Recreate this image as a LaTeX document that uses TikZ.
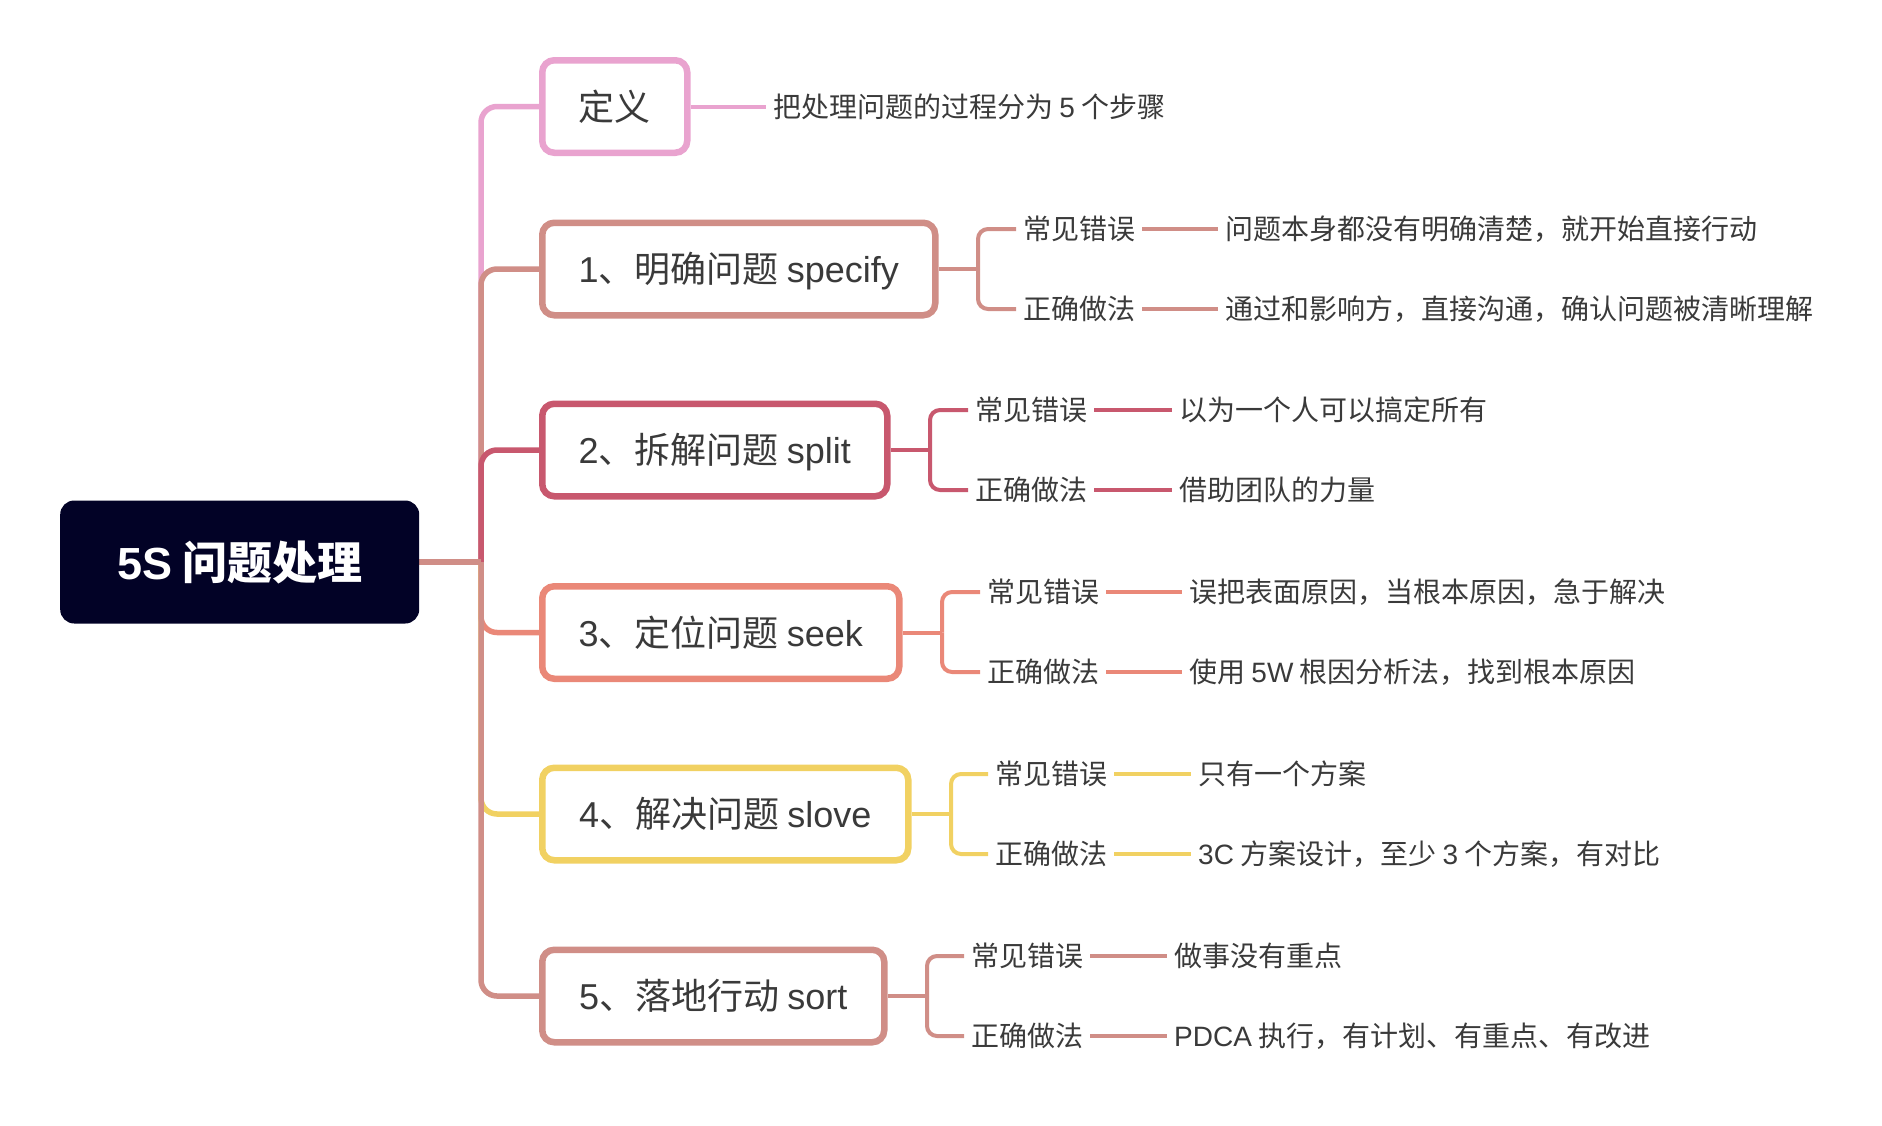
\documentclass[tikz,border=0pt]{standalone}
\usepackage{fontspec}
\usetikzlibrary{backgrounds}
\setmainfont{Noto Sans CJK SC}
\newfontfamily\latf{Liberation Sans}
\newcommand{\lt}[1]{{\latf #1}}
\definecolor{cpink}{HTML}{E9A3CF}
\definecolor{csal}{HTML}{D08E87}
\definecolor{ccrim}{HTML}{C8586E}
\definecolor{ccoral}{HTML}{EA8878}
\definecolor{cyel}{HTML}{F1D162}
\definecolor{croot}{HTML}{020226}
\definecolor{txt}{HTML}{3A3A3A}
\tikzset{
  boxnode/.style={draw, line width=6.5pt, rounded corners=12pt, fill=white,
    minimum height=92.5pt, text=txt, font=\fontsize{36}{43}\selectfont,
    anchor=west, inner sep=0pt, text height=31.7pt, text depth=4.3pt},
  lbl/.style={anchor=west, inner xsep=7pt, inner ysep=0pt, text=txt,
    font=\fontsize{28}{34}\selectfont, text height=24.6pt, text depth=3.4pt},
  conn/.style={line width=5.5pt, rounded corners=16pt},
  subconn/.style={line width=4pt, rounded corners=10pt},
}
\begin{document}
\begin{tikzpicture}[x=1pt,y=-1pt]
\useasboundingbox (0,0) rectangle (1882,1125);
% root
\node[fill=croot, rounded corners=14pt, minimum width=359pt, minimum height=123pt,
  anchor=west, inner sep=0pt, text=white, font=\fontsize{45}{54}\selectfont\bfseries,
  text height=39.6pt, text depth=5.4pt]
  (root) at (60,562) {\lt{5S} 问题处理};
\coordinate (rj) at (481,562);
% boxes
\node[boxnode, draw=cpink, minimum width=145pt] (b0) at (539,106.5) {定义};
\node[boxnode, draw=csal, minimum width=393pt] (b1) at (539,269) {\lt{1}、明确问题 \lt{specify}};
\node[boxnode, draw=ccrim, minimum width=345pt] (b2) at (539,450) {\lt{2}、拆解问题 \lt{split}};
\node[boxnode, draw=ccoral, minimum width=357pt] (b3) at (539,632.5) {\lt{3}、定位问题 \lt{seek}};
\node[boxnode, draw=cyel, minimum width=366pt] (b4) at (539,814) {\lt{4}、解决问题 \lt{slove}};
\node[boxnode, draw=csal, minimum width=342pt] (b5) at (539,996) {\lt{5}、落地行动 \lt{sort}};
% main connectors
\begin{scope}[on background layer]
\draw[conn, cpink] (rj) |- (b0.west);
\draw[conn, csal] (rj) |- (b1.west);
\draw[conn, ccrim] (rj) |- (b2.west);
\draw[conn, ccoral] (rj) |- (b3.west);
\draw[conn, cyel] (rj) |- (b4.west);
\draw[conn, csal] (rj) |- (b5.west);
\draw[line width=5.5pt, csal] (root.east) -- (rj);
\end{scope}
% definition
\node[lbl] (t0) at (766,106.5) {把处理问题的过程分为 \lt{5} 个步骤};
\draw[subconn, cpink] (b0.east) -- (t0.west);
% branch 1
\coordinate (j1) at (978,269);
\node[lbl] (l1a) at (1016,229) {常见错误};
\node[lbl] (l1b) at (1016,309) {正确做法};
\node[lbl] (t1a) at (1218,229) {问题本身都没有明确清楚，就开始直接行动};
\node[lbl] (t1b) at (1218,309) {通过和影响方，直接沟通，确认问题被清晰理解};
\draw[subconn, csal] (b1.east) -- (j1);
\draw[subconn, csal] (j1) |- (l1a.west);
\draw[subconn, csal] (j1) |- (l1b.west);
\draw[subconn, csal] (l1a.east) -- (t1a.west);
\draw[subconn, csal] (l1b.east) -- (t1b.west);
% branch 2
\coordinate (j2) at (930,450);
\node[lbl] (l2a) at (968,410) {常见错误};
\node[lbl] (l2b) at (968,490) {正确做法};
\node[lbl] (t2a) at (1172,410) {以为一个人可以搞定所有};
\node[lbl] (t2b) at (1172,490) {借助团队的力量};
\draw[subconn, ccrim] (b2.east) -- (j2);
\draw[subconn, ccrim] (j2) |- (l2a.west);
\draw[subconn, ccrim] (j2) |- (l2b.west);
\draw[subconn, ccrim] (l2a.east) -- (t2a.west);
\draw[subconn, ccrim] (l2b.east) -- (t2b.west);
% branch 3
\coordinate (j3) at (942,632.5);
\node[lbl] (l3a) at (980,592) {常见错误};
\node[lbl] (l3b) at (980,672) {正确做法};
\node[lbl] (t3a) at (1182,592) {误把表面原因，当根本原因，急于解决};
\node[lbl] (t3b) at (1182,672) {使用 \lt{5W} 根因分析法，找到根本原因};
\draw[subconn, ccoral] (b3.east) -- (j3);
\draw[subconn, ccoral] (j3) |- (l3a.west);
\draw[subconn, ccoral] (j3) |- (l3b.west);
\draw[subconn, ccoral] (l3a.east) -- (t3a.west);
\draw[subconn, ccoral] (l3b.east) -- (t3b.west);
% branch 4
\coordinate (j4) at (951,814);
\node[lbl] (l4a) at (988,774) {常见错误};
\node[lbl] (l4b) at (988,854) {正确做法};
\node[lbl] (t4a) at (1191,774) {只有一个方案};
\node[lbl] (t4b) at (1191,854) {\lt{3C} 方案设计，至少 \lt{3} 个方案，有对比};
\draw[subconn, cyel] (b4.east) -- (j4);
\draw[subconn, cyel] (j4) |- (l4a.west);
\draw[subconn, cyel] (j4) |- (l4b.west);
\draw[subconn, cyel] (l4a.east) -- (t4a.west);
\draw[subconn, cyel] (l4b.east) -- (t4b.west);
% branch 5
\coordinate (j5) at (927,996);
\node[lbl] (l5a) at (964,956) {常见错误};
\node[lbl] (l5b) at (964,1036) {正确做法};
\node[lbl] (t5a) at (1167,956) {做事没有重点};
\node[lbl] (t5b) at (1167,1036) {\lt{PDCA} 执行，有计划、有重点、有改进};
\draw[subconn, csal] (b5.east) -- (j5);
\draw[subconn, csal] (j5) |- (l5a.west);
\draw[subconn, csal] (j5) |- (l5b.west);
\draw[subconn, csal] (l5a.east) -- (t5a.west);
\draw[subconn, csal] (l5b.east) -- (t5b.west);
\end{tikzpicture}
\end{document}
